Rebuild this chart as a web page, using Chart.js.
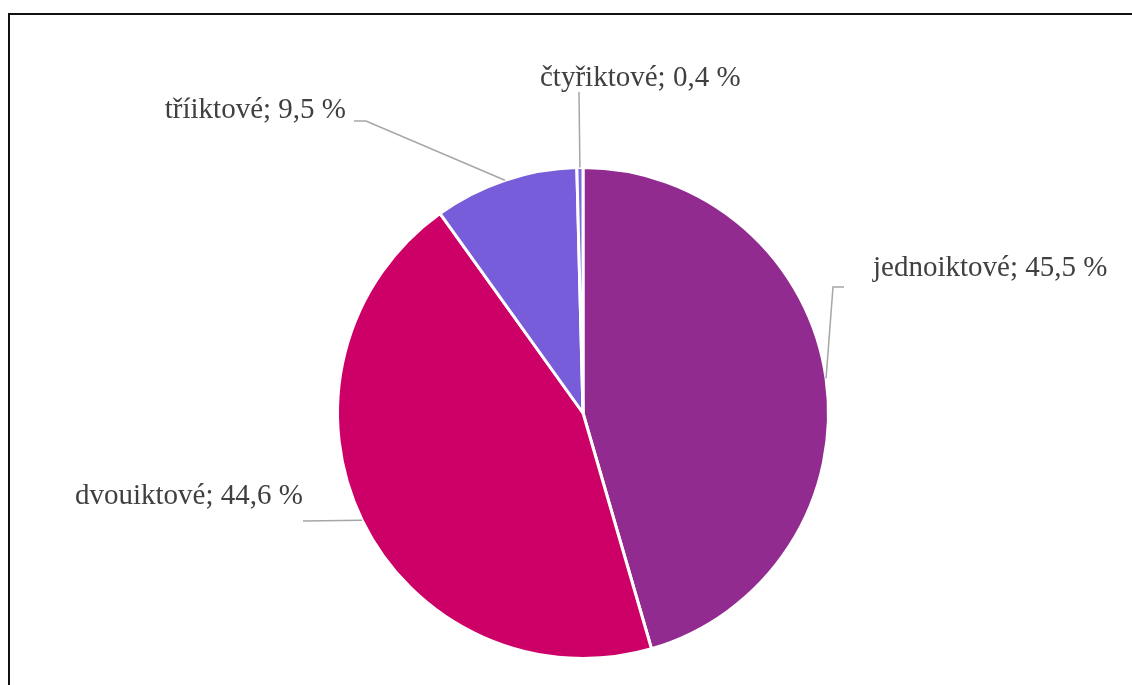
<!DOCTYPE html>
<html>
<head>
<meta charset="utf-8">
<script src="https://cdn.jsdelivr.net/npm/chart.js@4"></script>
<style>
  html, body { margin: 0; padding: 0; background: #fff; }
  #wrap { width: 1132px; height: 685px; position: relative; }
</style>
</head>
<body>
<div id="wrap"><canvas id="pie"></canvas></div>
<script>
// data
const categories = ['jednoiktové', 'dvouiktové', 'tříiktové', 'čtyřiktové'];
const shares = [45.5, 44.6, 9.5, 0.4];
const sliceColors = ['#922B8F', '#CC0066', '#775DD9', '#7F66DC'];

// label layout, offsets from pie centre (px)
const labelLayout = [
  { tx: 290, ty: -145, align: 'left', path: [[250, -126], [261, -126]] },
  { tx: -508, ty: 83, align: 'left', path: [[-280, 108]] },
  { tx: -237, ty: -303, align: 'right', path: [[-217, -292], [-229, -292]] },
  { tx: -43, ty: -335, align: 'left', path: [[-4, -321]] }
];

const fmt = v => v.toFixed(1).replace('.', ',') + ' %';

const frameAndLabels = {
  id: 'frameAndLabels',
  afterDatasetsDraw(chart) {
    const ctx = chart.ctx;
    const arcs = chart.getDatasetMeta(0).data;
    ctx.save();
    // frame
    ctx.strokeStyle = '#111';
    ctx.lineWidth = 2;
    ctx.strokeRect(9, 14, 1300, 900);

    arcs.forEach((arc, i) => {
      const p = arc.getProps(['x', 'y', 'startAngle', 'endAngle', 'outerRadius'], true);
      const mid = (p.startAngle + p.endAngle) / 2;
      const sx = p.x + Math.cos(mid) * p.outerRadius;
      const sy = p.y + Math.sin(mid) * p.outerRadius;
      const lay = labelLayout[i];
      ctx.strokeStyle = '#A6A6A6';
      ctx.lineWidth = 1.5;
      ctx.beginPath();
      ctx.moveTo(sx, sy);
      lay.path.forEach(pt => ctx.lineTo(p.x + pt[0], p.y + pt[1]));
      ctx.stroke();

      ctx.fillStyle = '#404040';
      ctx.font = '29px "Liberation Serif", "Times New Roman", serif';
      ctx.textAlign = lay.align;
      ctx.textBaseline = 'middle';
      ctx.fillText(categories[i] + '; ' + fmt(shares[i]), p.x + lay.tx, p.y + lay.ty);
    });
    ctx.restore();
  }
};

new Chart(document.getElementById('pie'), {
  type: 'pie',
  data: {
    labels: categories,
    datasets: [{
      data: shares,
      backgroundColor: sliceColors,
      borderColor: '#FFFFFF',
      borderWidth: 3
    }]
  },
  options: {
    responsive: true,
    maintainAspectRatio: false,
    animation: false,
    layout: { padding: { top: 166, bottom: 25, left: 336, right: 302 } },
    plugins: {
      legend: { display: false },
      tooltip: { enabled: false }
    }
  },
  plugins: [frameAndLabels]
});
</script>
</body>
</html>
